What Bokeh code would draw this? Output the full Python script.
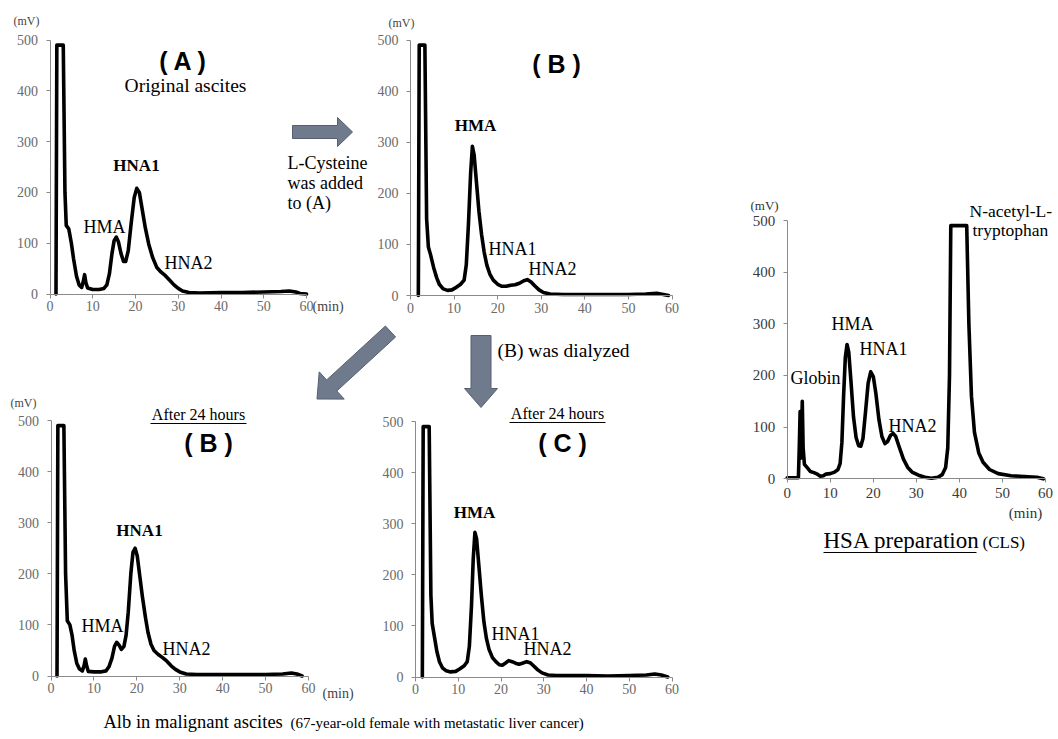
import math
from bokeh.plotting import figure
from bokeh.models import Range1d, LinearAxis, FixedTicker
from bokeh.embed import file_html
from bokeh.resources import INLINE
from bokeh.core.properties import value

# ---------------- data (retention time in min, signal in mV) ----------------
x_ticks = [0, 10, 20, 30, 40, 50, 60]
y_ticks = [0, 100, 200, 300, 400, 500]

# (A) Original ascites
a_min = [1.4, 1.6, 3.1, 3.5, 3.8, 4.4, 5.0, 5.5, 6.2, 6.8, 7.4, 7.8, 8.1, 8.4, 8.8, 10, 11.5, 12.6,
         13.3, 13.9, 14.5, 15.0, 15.5, 16.0, 16.6, 17.2, 17.7, 18.3, 19.0, 19.7, 20.3, 20.9, 21.5,
         22.3, 23.1, 24.0, 25.0, 26.0, 27.0, 28.0, 29.0, 30.0, 31.0, 32.5, 35, 40, 45, 50, 54, 56,
         57.5, 58.5, 60]
a_mv = [0, 490, 490, 200, 135, 128, 100, 70, 35, 18, 13, 25, 38, 22, 12, 9, 9, 11,
        18, 40, 80, 105, 112, 103, 80, 64, 64, 85, 140, 190, 208, 200, 170,
        130, 98, 72, 52, 43, 36, 27, 18, 11, 6, 3, 2, 3, 3, 4, 5, 6,
        4, 1, 0]

# (B) L-Cysteine added
b_min = [1.8, 2.0, 3.3, 3.7, 4.1, 4.6, 5.3, 6.0, 6.6, 7.5, 8.5, 9.5, 10.5, 11.5, 12.3, 12.8, 13.3,
         13.8, 14.2, 14.6, 15.1, 15.7, 16.3, 16.9, 17.5, 18.2, 19.0, 20.0, 21.0, 22.0, 23.0, 24.0,
         25.0, 26.0, 26.8, 27.6, 28.5, 29.5, 30.5, 32, 35, 40, 45, 50, 54, 56.5, 58, 59.2]
b_mv = [0, 490, 490, 150, 95, 80, 55, 35, 22, 13, 10, 11, 16, 22, 30, 60, 140,
        240, 292, 275, 225, 165, 120, 85, 60, 42, 30, 22, 18, 18, 20, 21,
        24, 29, 31, 27, 19, 11, 6, 3, 2, 2, 2, 2, 3, 4.5, 2, 0]

# (B) after 24 hours
b24_min = [1.4, 1.6, 3.0, 3.4, 3.8, 4.4, 4.9, 5.4, 6.0, 6.6, 7.3, 7.7, 8.0, 8.3, 8.7, 10, 11.5,
           12.8, 13.5, 14.2, 14.8, 15.3, 15.9, 16.4, 17.0, 17.5, 18.0, 18.6, 19.1, 19.6, 20.1,
           20.7, 21.3, 22.0, 22.6, 23.3, 24.0, 25.0, 26.0, 27.0, 28.0, 29.0, 30.0, 31.5, 34, 40,
           45, 50, 54, 56, 57.3, 58.5]
b24_mv = [0, 490, 490, 200, 108, 100, 80, 50, 25, 14, 10, 20, 33, 20, 9, 8, 8,
          10, 18, 35, 58, 66, 60, 52, 58, 80, 125, 200, 242, 250, 235,
          195, 155, 115, 85, 62, 50, 42, 36, 29, 20, 13, 8, 4, 3, 3,
          3, 3, 4, 6, 4, 0]

# (C) dialyzed, after 24 hours
c_min = [1.6, 1.8, 3.2, 3.6, 3.9, 4.4, 5.0, 5.6, 6.3, 7.2, 8.2, 9.4, 10.4, 11.4, 12.1, 12.6, 13.1,
         13.5, 13.9, 14.3, 14.8, 15.4, 16.0, 16.6, 17.2, 18.0, 18.8, 19.6, 20.3, 21.0, 21.8, 22.6,
         23.4, 24.2, 25.0, 26.0, 26.8, 27.6, 28.6, 29.6, 31, 33, 40, 45, 50, 54, 56, 57.5, 59]
c_mv = [0, 490, 490, 160, 105, 80, 50, 30, 18, 12, 10, 11, 16, 22, 30, 60, 140,
        230, 283, 270, 220, 160, 108, 75, 54, 38, 30, 24, 23, 27, 32, 30,
        27, 25, 27, 30, 28, 22, 14, 8, 4, 3, 3, 2, 3, 4, 6, 4, 0]

# HSA preparation (CLS)
d_min = [0, 2.6, 2.8, 3.0, 3.15, 3.3, 3.5, 3.7, 4.0, 4.6, 5.4, 6.2, 7.0, 7.7, 8.4, 9.0, 10.0, 11.0,
         11.8, 12.3, 12.7, 13.1, 13.5, 13.9, 14.3, 14.8, 15.4, 16.0, 16.6, 17.1, 17.6, 18.2, 18.8,
         19.4, 20.0, 20.6, 21.3, 22.0, 22.7, 23.3, 24.0, 24.6, 25.2, 26.0, 27.0, 28.0, 29.0, 30.5,
         32.0, 33.5, 35.0, 36.0, 36.8, 37.3, 37.7, 38.0, 41.7, 42.2, 42.8, 43.5, 44.5, 45.5, 47.0,
         49.0, 52.0, 56.0, 58.0, 59.5]
d_mv = [2, 2, 60, 130, 40, 60, 150, 60, 28, 22, 14, 12, 9, 5, 6, 9, 10, 13,
        18, 30, 70, 160, 235, 260, 245, 190, 120, 80, 64, 63, 78, 130, 185,
        207, 198, 165, 115, 82, 68, 72, 84, 88, 82, 62, 38, 22, 13, 7,
        3, 1, 3, 8, 22, 60, 200, 490, 490, 300, 160, 90, 50, 32, 18,
        10, 6, 4, 3, 0]

series = {"A": (a_min, a_mv), "B": (b_min, b_mv), "B24": (b24_min, b24_mv),
          "C": (c_min, c_mv), "D": (d_min, d_mv)}

# ---------------- layout (page pixels) ----------------
W, H = 1056, 737
X0, Y0 = 0, 0
# name: (px of 0 min, px of 60 min, px of 0 mV, px of 500 mV)
panels = {
    "A": (49.5, 306.0, 293.5, 39.5),
    "B": (410.0, 671.5, 295.0, 39.5),
    "B24": (50.5, 308.0, 675.5, 420.0),
    "C": (415.0, 671.5, 676.5, 421.0),
    "D": (786.7, 1045.0, 478.3, 220.0),
}

p = figure(width=W, height=H, x_range=Range1d(X0, X0 + W), y_range=Range1d(Y0 + H, Y0),
           x_axis_type=None, y_axis_type=None, toolbar_location=None, tools="",
           output_backend="svg", min_border=0, outline_line_color=None)
p.background_fill_color = "white"
p.border_fill_color = "white"

SERIF = "Liberation Serif"
SANS = "Liberation Sans"

for name, (x0, x60, y0, y500) in panels.items():
    kx = (x60 - x0) / 60.0
    ky = (y0 - y500) / 500.0
    p.extra_x_ranges[name] = Range1d((X0 - x0) / kx, (X0 + W - x0) / kx)
    p.extra_y_ranges[name] = Range1d((y0 - (Y0 + H)) / ky, (y0 - Y0) / ky)
    big = name == "D"
    xa = LinearAxis(x_range_name=name, y_range_name=name, fixed_location=0, bounds=(0, 60),
                    ticker=FixedTicker(ticks=x_ticks, minor_ticks=[]))
    ya = LinearAxis(x_range_name=name, y_range_name=name, fixed_location=0, bounds=(0, 500),
                    ticker=FixedTicker(ticks=y_ticks, minor_ticks=[]))
    for ax in (xa, ya):
        ax.axis_line_color = "#8a8a8a"
        ax.axis_line_width = 1
        ax.major_tick_line_color = "#8a8a8a"
        ax.major_tick_out = 4
        ax.major_tick_in = 0
        ax.minor_tick_line_color = None
        ax.major_label_text_font = SERIF
        ax.major_label_text_font_size = "15px" if big else "14px"
        ax.major_label_text_color = "#3a3a3a" if big else "#6a6a6a"
    xa.major_label_standoff = 5 if big else 3
    ya.major_label_standoff = 8
    p.add_layout(xa, "below")
    p.add_layout(ya, "left")
    t, mv = series[name]
    p.line(t, mv, x_range_name=name, y_range_name=name, line_color="black",
           line_width=3.6, line_join="round", line_cap="round")


def txt(s, x, y, size, bold=False, font=SERIF, align="left", color="black"):
    p.text(x=[x], y=[y], text=[s], text_font=value(font), text_font_size=f"{size}px",
           text_font_style="bold" if bold else "normal", text_align=align,
           text_baseline="middle", text_color=color)


# panel (A)
txt("(mV)", 13, 20, 12, color="#444444")
txt("( A )", 183, 60, 25, bold=True, font=SANS, align="center")
txt("Original ascites", 185, 85, 19.5, align="center")
txt("HNA1", 136, 165, 17, bold=True, align="center")
txt("HMA", 104, 226, 18, align="center")
txt("HNA2", 188, 262, 18, align="center")
txt("(min)", 312, 306, 14, color="#444444")
txt("L-Cysteine", 287, 162, 18)
txt("was added", 287, 182, 18)
txt("to (A)", 287, 202, 18)
# panel (B)
txt("(mV)", 388, 22, 12, color="#444444")
txt("( B )", 556, 63, 25, bold=True, font=SANS, align="center")
txt("HMA", 475, 125, 17, bold=True, align="center")
txt("HNA1", 512, 248, 18, align="center")
txt("HNA2", 552, 268, 18, align="center")
txt("(B) was dialyzed", 497, 350, 19.5)
# panel (B) after 24 h
txt("(mV)", 10, 402, 12, color="#444444")
txt("After 24 hours", 198, 414, 16, align="center")
txt("( B )", 208, 442, 25, bold=True, font=SANS, align="center")
txt("HNA1", 139, 530, 17, bold=True, align="center")
txt("HMA", 102, 625, 18, align="center")
txt("HNA2", 186, 648, 18, align="center")
txt("(min)", 322, 693, 14, color="#444444")
# panel (C)
txt("After 24 hours", 557, 413, 16, align="center")
txt("( C )", 562, 442, 25, bold=True, font=SANS, align="center")
txt("HMA", 474, 512, 17, bold=True, align="center")
txt("HNA1", 515, 633, 18, align="center")
txt("HNA2", 547, 648, 18, align="center")
# HSA panel
txt("(mV)", 750, 205, 13, color="#333333")
txt("N-acetyl-L-", 969, 210, 17.5)
txt("tryptophan", 972, 229, 17.5)
txt("HMA", 852, 323, 18, align="center")
txt("HNA1", 883, 348, 18, align="center")
txt("Globin", 790, 377, 18)
txt("HNA2", 912, 425, 18, align="center")
txt("(min)", 1025, 512, 15, align="center", color="#333333")
txt("HSA preparation", 823, 540, 23)
txt("(CLS)", 982, 542, 17)
# caption
txt("Alb in malignant ascites", 103, 721, 18.5)
txt("(67-year-old female with metastatic liver cancer)", 290, 722, 15)

# underlines
p.segment(x0=[150, 509, 823], y0=[423, 422, 552], x1=[246, 605, 976], y1=[423, 422, 552],
          line_color="black", line_width=1)


# block arrows
def block_arrow(xs, ys, xe, ye, sw, hw, hl):
    dx, dy = xe - xs, ye - ys
    L = math.hypot(dx, dy)
    ux, uy = dx / L, dy / L
    nx, ny = -uy, ux
    bx, by = xe - ux * hl, ye - uy * hl
    pts = [(xs + nx * sw, ys + ny * sw), (bx + nx * sw, by + ny * sw), (bx + nx * hw, by + ny * hw),
           (xe, ye), (bx - nx * hw, by - ny * hw), (bx - nx * sw, by - ny * sw),
           (xs - nx * sw, ys - ny * sw)]
    p.patch([q[0] for q in pts], [q[1] for q in pts], fill_color="#6f7b8d",
            line_color="#55606f", line_width=1)


block_arrow(292, 131.5, 352, 131.5, 6.5, 14.5, 15)
block_arrow(390, 331, 316.5, 398.5, 7.5, 18.5, 20)
block_arrow(480.5, 335, 480.5, 407, 10, 16.5, 19)

open("out.html", "w").write(file_html(p, INLINE))
